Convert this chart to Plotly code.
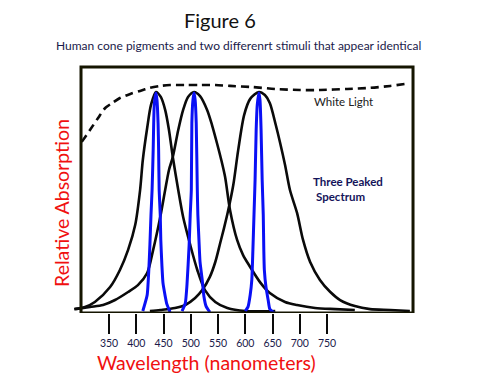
import plotly.graph_objects as go

# ---- data (wavelength in nm, relative absorption) ----
tick_vals = [350, 400, 450, 500, 550, 600, 650, 700, 750]
tick_text = ["350", "400", "450", "500", "550", "600", "650", "700", "750"]

s_x = [286, 306, 324, 352, 370, 385, 398, 407, 412, 420, 427, 436,
       445, 453, 460, 467, 477, 486, 499, 512, 526, 545, 567, 600, 655]
s_y = [-0.005, 0.005, 0.028, 0.097, 0.176, 0.269, 0.384, 0.546, 0.685, 0.833, 0.940, 1.0,
       0.977, 0.917, 0.824, 0.699, 0.546, 0.421, 0.292, 0.176, 0.083, 0.028, 0.0, -0.014, -0.014]

m_x = [288, 315, 339, 361, 385, 403, 420, 431, 444, 453, 460, 467, 477, 486, 495, 506,
       517, 530, 539, 548, 556, 563, 572, 585, 596, 609, 627, 645, 673, 695, 728, 765, 801]
m_y = [-0.005, 0.005, 0.014, 0.037, 0.074, 0.106, 0.162, 0.269, 0.421, 0.546, 0.639, 0.699,
       0.824, 0.917, 0.977, 1.0,
       0.981, 0.917, 0.847, 0.764, 0.685, 0.606, 0.454, 0.315, 0.245, 0.190, 0.120, 0.069,
       0.028, 0.014, 0.0, -0.005, -0.009]

l_x = [425, 444, 471, 490, 508, 521, 535, 545, 554, 561, 568, 578, 587, 598, 609, 625,
       636, 645, 656, 664, 673, 682, 695, 706, 719, 737, 756, 774, 801, 829, 866, 902]
l_y = [-0.014, -0.009, 0.0, 0.014, 0.046, 0.083, 0.144, 0.213, 0.301, 0.370, 0.444, 0.569,
       0.731, 0.894, 0.968, 1.0,
       0.986, 0.949, 0.847, 0.764, 0.662, 0.546, 0.440, 0.315, 0.213, 0.130, 0.074, 0.037,
       0.009, -0.005, -0.009, -0.014]

white_x = [300, 315, 330, 343, 356, 370, 389, 407, 425, 444, 462, 490, 517, 545, 572,
           612, 655, 700, 737, 787, 829, 866, 893]
white_y = [0.769, 0.824, 0.880, 0.926, 0.949, 0.972, 0.991, 1.005, 1.019, 1.028, 1.032,
           1.032, 1.032, 1.032, 1.028, 1.023, 1.014, 1.009, 1.009, 1.014, 1.019, 1.028, 1.037]

b1_x = [412, 420, 423, 425, 427, 429, 431, 432, 433, 436,
        438, 440, 441, 442, 444, 445, 447, 449, 453, 456, 462]
b1_y = [-0.014, 0.060, 0.176, 0.292, 0.431, 0.546, 0.731, 0.856, 0.940, 0.995,
        0.963, 0.856, 0.731, 0.546, 0.431, 0.315, 0.199, 0.116, 0.056, 0.019, -0.019]

b2_x = [484, 490, 493, 497, 499, 501, 502, 504, 506,
        508, 510, 512, 513, 515, 517, 521, 524, 528, 535]
b2_y = [-0.014, 0.023, 0.106, 0.292, 0.431, 0.546, 0.856, 0.963, 0.995,
        0.963, 0.856, 0.546, 0.431, 0.315, 0.213, 0.130, 0.056, 0.009, -0.019]

b3_x = [600, 605, 609, 612, 614, 616, 618, 620, 622, 625,
        627, 629, 631, 633, 634, 635, 638, 642, 645, 653]
b3_y = [-0.014, 0.005, 0.060, 0.130, 0.269, 0.431, 0.593, 0.824, 0.940, 0.995,
        0.963, 0.824, 0.593, 0.431, 0.269, 0.176, 0.097, 0.037, -0.005, -0.023]

fig = go.Figure()

black = dict(color="#0a0a0a", width=2.6, shape="spline", smoothing=0.8)
for xs, ys in [(s_x, s_y), (m_x, m_y), (l_x, l_y)]:
    fig.add_trace(go.Scatter(x=xs, y=ys, mode="lines", line=black, hoverinfo="skip"))

fig.add_trace(go.Scatter(x=white_x, y=white_y, mode="lines",
                         line=dict(color="#0a0a0a", width=2.6, dash="8px,5px",
                                   shape="spline", smoothing=0.8), hoverinfo="skip"))

blue = dict(color="#0a10f5", width=3, shape="spline", smoothing=0.5)
for xs, ys in [(b1_x, b1_y), (b2_x, b2_y), (b3_x, b3_y)]:
    fig.add_trace(go.Scatter(x=xs, y=ys, mode="lines", line=blue, hoverinfo="skip"))

# frame of the plotting box
fig.add_shape(type="rect", xref="x", yref="y", x0=298.6, x1=907.8, y0=-0.023, y1=1.116,
              line=dict(color="#151500", width=3))

font_fam = "Lato, 'Open Sans', sans-serif"


def note(x, y, text, size, color, xref="paper", yref="paper", angle=0):
    fig.add_annotation(xref=xref, yref=yref, x=x, y=y, text=text, showarrow=False,
                       xanchor="center", yanchor="middle", textangle=angle,
                       font=dict(family=font_fam, size=size, color=color))


note(0.4286, 1.158, "Figure 6", 20, "#111111")
note(0.48, 1.059, "Human cone pigments and two differenrt stimuli that appear identical",
     12, "#1a1a4a")
note(-0.023, 0.435, "Relative Absorption", 19.5, "#f01010", angle=-90)
note(0.391, -0.194, "Wavelength (nanometers)", 19.5, "#f01010")
note(781, 0.958, "White Light", 11.5, "#202020", "x", "y")
note(788, 0.586, "<b>Three Peaked</b>", 11.5, "#14145a", "x", "y")
note(774, 0.514, "<b>Spectrum</b>", 11.5, "#14145a", "x", "y")

fig.update_layout(
    width=479, height=377,
    margin=dict(l=70, r=59, t=60, b=64),
    paper_bgcolor="white", plot_bgcolor="white",
    showlegend=False,
    xaxis=dict(range=[278.4, 920.6], tickvals=tick_vals, ticktext=tick_text,
               ticks="outside", ticklen=20, tickwidth=2, tickcolor="#0a0a0a",
               showgrid=False, zeroline=False, showline=False, fixedrange=True,
               tickfont=dict(family=font_fam, size=10.5, color="#1a1a4a")),
    yaxis=dict(range=[-0.0231, 1.148], visible=False, fixedrange=True),
)

fig.write_html("out.html", config={"displayModeBar": False},
               post_script="document.body.style.margin='0';")
